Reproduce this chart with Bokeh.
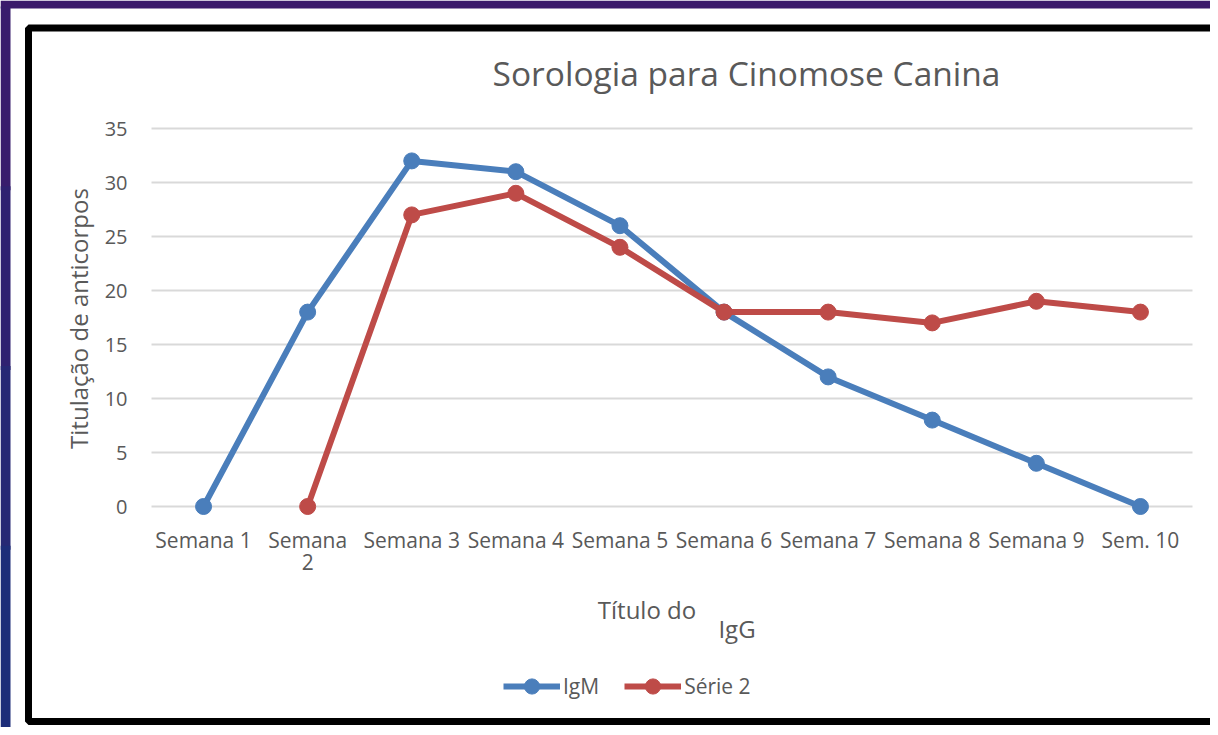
import math
from bokeh.plotting import figure
from bokeh.models import (Range1d, FixedTicker, Legend, LegendItem, Label,
                          BoxAnnotation)
from bokeh.embed import file_html
from bokeh.resources import INLINE

# ---------------- data ----------------
weeks = ["Semana 1", "Semana 2", "Semana 3", "Semana 4", "Semana 5",
         "Semana 6", "Semana 7", "Semana 8", "Semana 9", "Sem. 10"]
tick_labels = ["Semana 1", "Semana\n2", "Semana 3", "Semana 4", "Semana 5",
               "Semana 6", "Semana 7", "Semana 8", "Semana 9", "Sem. 10"]
igm = [0, 18, 32, 31, 26, 18, 12, 8, 4, 0]
serie2 = [None, 0, 27, 29, 24, 18, 18, 17, 19, 18]
y_ticks = [0, 5, 10, 15, 20, 25, 30, 35]

title_text = "Sorologia para Cinomose Canina"
ylabel_text = "Titulação de anticorpos"
xlabel_a = "Título do"
xlabel_b = "IgG"
names = ["IgM", "Série 2"]

# ---------------- style / layout ----------------
FONT = "Open Sans"
TXT = "#595959"
BLUE = "#4A7EBB"
RED = "#BE4B48"
GRID = "#d9d9d9"

W, H = 1210, 727
PX0, PXU = 151.0, 104.1   # pixel of category-axis start, pixels per category
PY0, PYU = 506.0, 10.8    # pixel of value 0, pixels per unit


def dx(px):
    return (px - PX0) / PXU


def dy(py):
    return (PY0 - py) / PYU


p = figure(width=W, height=H, output_backend="svg", toolbar_location=None,
           x_range=Range1d(dx(0), dx(W)), y_range=Range1d(dy(H), dy(0)))
p.title_location = None
p.min_border = 0
p.outline_line_color = None
p.background_fill_color = "white"
p.border_fill_color = "white"
p.xgrid.visible = False
p.ygrid.visible = False

# slide background strips
p.add_layout(BoxAnnotation(left=dx(0), right=dx(W), top=dy(0), bottom=dy(8),
                           fill_color="#3b1a6b", fill_alpha=1,
                           line_color=None))
left_cols = ["#381c6c", "#2f2170", "#262874", "#1d2d79"]
seg = (H - 8) / len(left_cols)
for k, c in enumerate(left_cols):
    p.add_layout(BoxAnnotation(left=dx(0), right=dx(10),
                               top=dy(8 + k * seg - 2),
                               bottom=dy(8 + (k + 1) * seg + 2),
                               fill_color=c, fill_alpha=1, line_color=None))

# black chart border
p.add_layout(BoxAnnotation(left=dx(28), right=dx(W + 30), top=dy(27.5),
                           bottom=dy(721), fill_color=None, fill_alpha=0,
                           line_color="black", line_alpha=1, line_width=7))

# horizontal gridlines across the category span
n = len(weeks)
p.segment(x0=[0] * len(y_ticks), x1=[n] * len(y_ticks), y0=y_ticks, y1=y_ticks,
          line_color=GRID, line_width=2)

# axes (placed inside the plot area)
xpos = [i + 0.5 for i in range(n)]
for ax in (p.xaxis[0], p.yaxis[0]):
    ax.axis_line_color = None
    ax.major_tick_line_color = None
    ax.minor_tick_line_color = None
    ax.major_tick_in = 0
    ax.major_tick_out = 0
    ax.minor_tick_in = 0
    ax.minor_tick_out = 0
    ax.major_label_text_font = FONT
    ax.major_label_text_color = TXT
p.yaxis.fixed_location = 0
p.yaxis.ticker = FixedTicker(ticks=y_ticks)
p.yaxis.major_label_text_font_size = "20px"
p.yaxis.major_label_standoff = 24
p.xaxis.fixed_location = dy(516)
p.xaxis.ticker = FixedTicker(ticks=xpos)
p.xaxis.major_label_overrides = {x: t for x, t in zip(xpos, tick_labels)}
p.xaxis.major_label_text_font_size = "21px"
p.xaxis.major_label_text_line_height = 0.8
p.xaxis.major_label_standoff = 9

# series
r1 = p.line(xpos, igm, line_color=BLUE, line_width=6)
s1 = p.scatter(xpos, igm, size=16, fill_color=BLUE, line_color=BLUE)
x2 = [x for x, v in zip(xpos, serie2) if v is not None]
y2 = [v for v in serie2 if v is not None]
r2 = p.line(x2, y2, line_color=RED, line_width=6)
s2 = p.scatter(x2, y2, size=16, fill_color=RED, line_color=RED)


# texts
def add_label(x, y, text, size, angle=0.0):
    p.add_layout(Label(x=x, y=y, text=text, text_font=FONT,
                       text_font_size=size, text_color=TXT,
                       text_align="center", text_baseline="middle",
                       angle=angle))


add_label(dx(746), dy(72), title_text, "33.5px")
add_label(dx(78), dy(318), ylabel_text, "24px", angle=math.pi / 2)
add_label(dx(646.5), dy(609), xlabel_a, "24px")
add_label(dx(736.5), dy(628), xlabel_b, "24px")

legend = Legend(items=[LegendItem(label=names[0], renderers=[r1, s1]),
                       LegendItem(label=names[1], renderers=[r2, s2])],
                orientation="horizontal", location=(503, H - 705),
                glyph_width=57, glyph_height=38, label_standoff=3, spacing=25,
                padding=0, margin=0, border_line_color=None,
                background_fill_alpha=0, label_text_font=FONT,
                label_text_font_size="21px", label_text_color=TXT)
p.add_layout(legend, "center")

open("out.html", "w").write(file_html(p, INLINE))
